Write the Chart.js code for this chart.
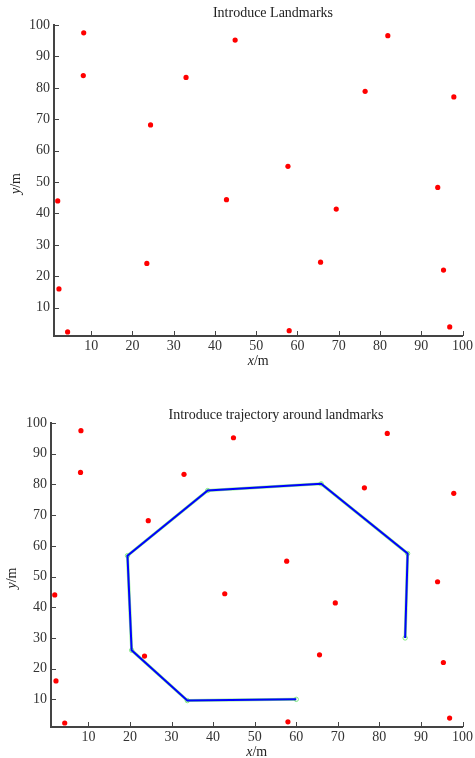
<!DOCTYPE html>
<html lang="en">
<head>
    <meta charset="UTF-8">
    <title>Landmarks</title>
    <script src="https://cdn.jsdelivr.net/npm/chart.js"></script>
    <style>
        body {
            margin: 0;
            padding: 0;
            background-color: #fff;
        }

        .wrap {
            position: relative;
            width: 475px;
            height: 758px;
        }

        .wrap canvas {
            position: absolute;
            left: 0;
        }

        #top-chart { top: 0; }
        #bottom-chart { top: 380px; }
    </style>
</head>
<body>
    <div class="wrap">
        <canvas id="top-chart" width="475" height="380"></canvas>
        <canvas id="bottom-chart" width="475" height="378"></canvas>
    </div>

    <script>
        // landmark positions (m)
        const landmarkX = [8.2, 8.1, 24.4, 33.0, 44.9, 81.9, 76.4, 97.9, 57.7, 1.9,
                           2.2, 4.3, 23.5, 42.8, 94.0, 69.4, 65.6, 95.4, 58.0, 96.9];
        const landmarkY = [97.5, 83.9, 68.2, 83.3, 95.2, 96.6, 78.9, 77.1, 55.0, 44.0,
                           16.0, 2.3, 24.1, 44.4, 48.3, 41.4, 24.5, 22.0, 2.7, 3.9];

        // trajectory waypoints (m)
        const trajX = [60.0, 33.8, 20.4, 19.4, 38.7, 66.0, 86.8, 86.2];
        const trajY = [10.0, 9.6, 26.0, 56.8, 78.0, 80.2, 57.5, 30.0];

        const xTicks = [10, 20, 30, 40, 50, 60, 70, 80, 90, 100];
        const yTicks = [10, 20, 30, 40, 50, 60, 70, 80, 90, 100];

        const SERIF = "'Liberation Serif', 'Times New Roman', serif";
        const AXIS_COLOR = '#444';

        const toPoints = (xs, ys) => xs.map((x, i) => ({ x: x, y: ys[i] }));

        // inward tick marks + title + axis labels
        const decorPlugin = {
            id: 'decor',
            afterDraw(chart, args, opts) {
                const ctx = chart.ctx;
                const area = chart.chartArea;
                const xs = chart.scales.x;
                const ys = chart.scales.y;

                ctx.save();
                ctx.strokeStyle = AXIS_COLOR;
                ctx.lineWidth = 1;
                ctx.beginPath();
                xs.ticks.forEach(t => {
                    const px = Math.round(xs.getPixelForValue(t.value)) + 0.5;
                    ctx.moveTo(px, area.bottom);
                    ctx.lineTo(px, area.bottom - 5);
                });
                ys.ticks.forEach(t => {
                    const py = Math.round(ys.getPixelForValue(t.value)) + 0.5;
                    ctx.moveTo(area.left, py);
                    ctx.lineTo(area.left + 5, py);
                });
                ctx.stroke();

                // title
                ctx.fillStyle = '#222';
                ctx.font = '14px ' + SERIF;
                ctx.textAlign = 'center';
                ctx.textBaseline = 'middle';
                ctx.fillText(opts.title, opts.titleX, area.top + opts.titleDy);

                // axis labels: italic variable + "/m"
                const drawLabel = (v, cx, cy) => {
                    ctx.font = 'italic 14px ' + SERIF;
                    const w1 = ctx.measureText(v).width;
                    ctx.font = '14px ' + SERIF;
                    const w2 = ctx.measureText('/m').width;
                    let x0 = cx - (w1 + w2) / 2;
                    ctx.textAlign = 'left';
                    ctx.font = 'italic 14px ' + SERIF;
                    ctx.fillText(v, x0, cy);
                    ctx.font = '14px ' + SERIF;
                    ctx.fillText('/m', x0 + w1, cy);
                };
                drawLabel('x', (area.left + area.right) / 2, area.bottom + 25);

                ctx.save();
                ctx.translate(opts.yLabelX, (area.top + area.bottom) / 2 + 3);
                ctx.rotate(-Math.PI / 2);
                drawLabel('y', 0, 0);
                ctx.restore();

                ctx.restore();
            }
        };

        function makeScales(yWidth, xHeight) {
            const common = {
                type: 'linear',
                min: 1,
                max: 100,
                grid: { display: false, drawTicks: false },
                border: { display: true, color: AXIS_COLOR, width: 2 },
                ticks: {
                    color: '#333',
                    font: { family: SERIF, size: 14 },
                    autoSkip: false,
                    maxRotation: 0
                }
            };
            return {
                x: Object.assign({}, common, {
                    ticks: Object.assign({}, common.ticks, { padding: 2 }),
                    afterBuildTicks: s => { s.ticks = xTicks.map(v => ({ value: v })); },
                    afterFit: s => { s.height = xHeight; }
                }),
                y: Object.assign({}, common, {
                    ticks: Object.assign({}, common.ticks, { padding: 4 }),
                    afterBuildTicks: s => { s.ticks = yTicks.map(v => ({ value: v })); },
                    afterFit: s => { s.width = yWidth; }
                })
            };
        }

        const landmarkSet = () => ({
            label: 'Landmarks',
            data: toPoints(landmarkX, landmarkY),
            backgroundColor: '#ff0000',
            borderColor: '#ff0000',
            pointRadius: 2.6,
            pointBorderWidth: 0,
            order: 0
        });

        const baseOptions = {
            responsive: false,
            animation: false,
            events: [],
            plugins: { legend: { display: false }, tooltip: { enabled: false } }
        };

        new Chart(document.getElementById('top-chart'), {
            type: 'scatter',
            data: { datasets: [landmarkSet()] },
            options: Object.assign({}, baseOptions, {
                layout: { padding: { left: 0, top: 25, right: 11, bottom: 0 } },
                scales: makeScales(54, 44),
                plugins: Object.assign({}, baseOptions.plugins, {
                    decor: { title: 'Introduce Landmarks', titleX: 273, titleDy: -12, yLabelX: 16 }
                })
            }),
            plugins: [decorPlugin]
        });

        new Chart(document.getElementById('bottom-chart'), {
            type: 'scatter',
            data: {
                datasets: [
                    landmarkSet(),
                    {
                        label: 'Trajectory',
                        data: toPoints(trajX, trajY),
                        showLine: true,
                        borderColor: '#0000ff',
                        borderWidth: 2,
                        pointRadius: 0,
                        order: 1
                    },
                    {
                        label: 'Waypoints',
                        data: toPoints(trajX, trajY),
                        showLine: true,
                        borderColor: 'rgba(120, 230, 120, 0.8)',
                        backgroundColor: 'rgba(0,0,0,0)',
                        borderWidth: 3,
                        pointRadius: 2.2,
                        pointBorderWidth: 1,
                        pointBorderColor: 'rgba(120, 230, 120, 0.9)',
                        order: 2
                    }
                ]
            },
            options: Object.assign({}, baseOptions, {
                layout: { padding: { left: 0, top: 43, right: 9, bottom: 0 } },
                scales: makeScales(51, 31),
                plugins: Object.assign({}, baseOptions.plugins, {
                    decor: { title: 'Introduce trajectory around landmarks', titleX: 276, titleDy: -8, yLabelX: 12 }
                })
            }),
            plugins: [decorPlugin]
        });
    </script>
</body>
</html>
